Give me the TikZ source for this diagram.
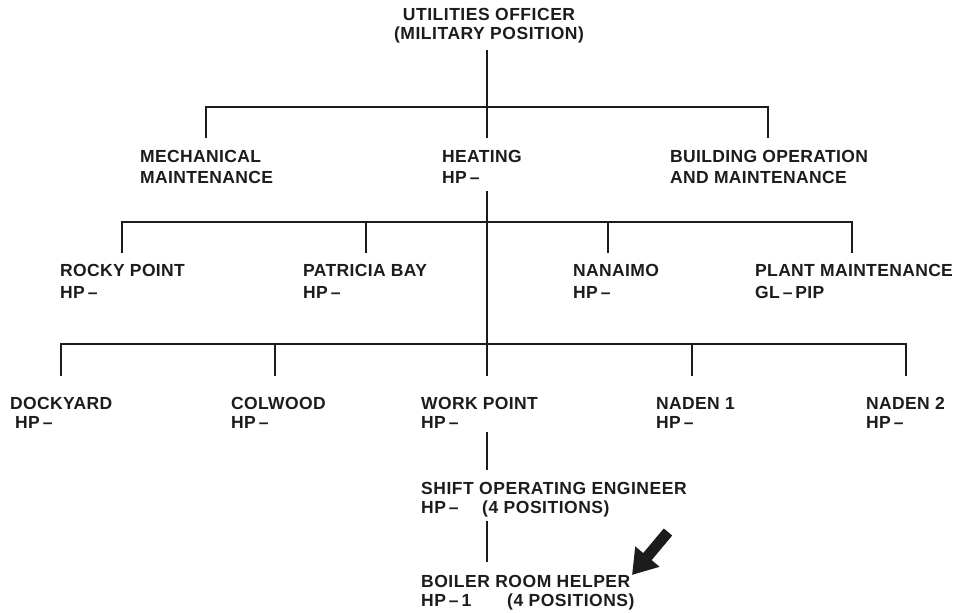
\documentclass[tikz,border=0pt]{standalone}
\usepackage{fontspec}
\setmainfont{Liberation Sans}
\usetikzlibrary{arrows.meta}
\definecolor{ink}{HTML}{1C1C1C}
\begin{document}
\begin{tikzpicture}[x=1pt,y=-1pt,
  lbl/.style={anchor=north west, inner sep=0pt, align=left, text=ink,
    font=\bfseries\fontsize{17.5}{21}\selectfont\addfontfeature{LetterSpace=2}},
  lblwide/.style={lbl, font=\bfseries\fontsize{17.5}{19}\selectfont\addfontfeature{LetterSpace=3}},
  wire/.style={draw=ink, line width=1.8pt},
  bigarrow/.style={draw=ink, line width=11pt, -{Triangle[width=30pt,length=24pt]}}]
\useasboundingbox (0,0) rectangle (959,613);

% ---- text nodes ----
\node[lblwide, anchor=north, align=center] (uo) at (489,8) {UTILITIES OFFICER\\(MILITARY POSITION)};

\node[lbl] (mech) at (140,150) {MECHANICAL\\MAINTENANCE};
\node[lbl] (heat) at (442,150) {HEATING\\HP\,–};
\node[lbl] (bld)  at (670,150) {BUILDING OPERATION\\AND MAINTENANCE};

\node[lbl, font=\bfseries\fontsize{17.5}{22}\selectfont\addfontfeature{LetterSpace=2}] (rocky) at (60,264) {ROCKY POINT\\HP\,–};
\node[lbl, font=\bfseries\fontsize{17.5}{22}\selectfont\addfontfeature{LetterSpace=2}] (pat)   at (303,264) {PATRICIA BAY\\HP\,–};
\node[lbl, font=\bfseries\fontsize{17.5}{22}\selectfont\addfontfeature{LetterSpace=2}] (nan)   at (573,264) {NANAIMO\\HP\,–};
\node[lbl, font=\bfseries\fontsize{17.5}{22}\selectfont\addfontfeature{LetterSpace=2}] (plant) at (755,264) {PLANT MAINTENANCE\\GL\,–\,PIP};

\node[lbl, font=\bfseries\fontsize{17.5}{19}\selectfont\addfontfeature{LetterSpace=2}] (dock) at (10,397)  {DOCKYARD\\\hspace*{5pt}HP\,–};
\node[lbl, font=\bfseries\fontsize{17.5}{19}\selectfont\addfontfeature{LetterSpace=2}] (col)  at (231,397) {COLWOOD\\HP\,–};
\node[lbl, font=\bfseries\fontsize{17.5}{19}\selectfont\addfontfeature{LetterSpace=2}] (work) at (421,397) {WORK POINT\\HP\,–};
\node[lbl, font=\bfseries\fontsize{17.5}{19}\selectfont\addfontfeature{LetterSpace=2}] (nad1) at (656,397) {NADEN 1\\HP\,–};
\node[lbl, font=\bfseries\fontsize{17.5}{19}\selectfont\addfontfeature{LetterSpace=2}] (nad2) at (866,397) {NADEN 2\\HP\,–};

\node[lblwide] (shift) at (421,482) {SHIFT OPERATING ENGINEER\\\makebox[61pt][l]{HP\,–}(4 POSITIONS)};
\node[lblwide] (boil)  at (421,575) {BOILER ROOM HELPER\\\makebox[86pt][l]{HP\,–\,1}(4 POSITIONS)};

% ---- connector points ----
\coordinate (uo-out) at (487,50);
\coordinate (b1l) at (206,107);
\coordinate (b1r) at (768,107);
\coordinate (mech-in) at (206,138);
\coordinate (heat-in) at (487,138);
\coordinate (bld-in) at (768,138);

\coordinate (heat-out) at (487,191);
\coordinate (b2l) at (122,222);
\coordinate (b2r) at (852,222);
\coordinate (b2p) at (366,222);
\coordinate (b2n) at (608,222);
\coordinate (rocky-in) at (122,253);
\coordinate (pat-in) at (366,253);
\coordinate (nan-in) at (608,253);
\coordinate (plant-in) at (852,253);

\coordinate (b3l) at (61,344);
\coordinate (b3r) at (906,344);
\coordinate (b3c) at (275,344);
\coordinate (b3n) at (692,344);
\coordinate (dock-in) at (61,376);
\coordinate (col-in) at (275,376);
\coordinate (work-in) at (487,376);
\coordinate (nad1-in) at (692,376);
\coordinate (nad2-in) at (906,376);

\coordinate (work-out) at (487,432);
\coordinate (shift-in) at (487,470);
\coordinate (shift-out) at (487,521);
\coordinate (boil-in) at (487,562);

\coordinate (arrow-tail) at (668,532);
\coordinate (arrow-tip) at (632,575);

% ---- connectors ----
\draw[wire] (uo-out) -- (heat-in);
\draw[wire] (mech-in) -- (b1l) -- (b1r) -- (bld-in);

\draw[wire] (heat-out) -- (work-in);
\draw[wire] (rocky-in) -- (b2l) -- (b2r) -- (plant-in);
\draw[wire] (b2p) -- (pat-in);
\draw[wire] (b2n) -- (nan-in);

\draw[wire] (dock-in) -- (b3l) -- (b3r) -- (nad2-in);
\draw[wire] (b3c) -- (col-in);
\draw[wire] (b3n) -- (nad1-in);

\draw[wire] (work-out) -- (shift-in);
\draw[wire] (shift-out) -- (boil-in);

\draw[bigarrow] (arrow-tail) -- (arrow-tip);
\end{tikzpicture}
\end{document}
